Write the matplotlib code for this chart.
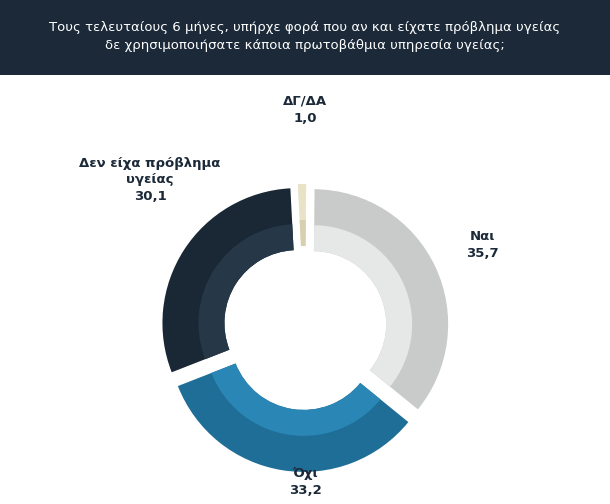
import matplotlib.pyplot as plt
from matplotlib.patches import Rectangle

categories = ["ΔΓ/ΔΑ", "Ναι", "Όχι", "Δεν είχα πρόβλημα\nυγείας"]
values = [1.0, 35.7, 33.2, 30.1]
colors = ["#e9e2c6", "#c9cbcb", "#1f6e98", "#1a2835"]
inner_colors = ["#d8cfae", "#e6e8e8", "#2a86b5", "#263747"]
title = "Τους τελευταίους 6 μήνες, υπήρχε φορά που αν και είχατε πρόβλημα υγείας\nδε χρησιμοποιήσατε κάποια πρωτοβάθμια υπηρεσία υγείας;"

fig = plt.figure(figsize=(6.1, 5.04), dpi=100)
fig.patches.append(Rectangle((0, 1 - 75/504), 1, 75/504, transform=fig.transFigure,
                             facecolor="#1b2938", edgecolor="none"))
fig.text(0.5, 1 - 37/504, title, ha="center", va="center", color="white", fontsize=9.5, linespacing=1.5)

ax = fig.add_axes([0, 0, 1, 1])
cx, cy, R = 305, 504 - 328, 135
ex = [9] * 4
ax.pie(values, colors=colors, startangle=93, counterclock=False, center=(cx, cy), radius=R,
       explode=ex, wedgeprops=dict(width=62, edgecolor="none"), frame=True)
ax.pie(values, colors=inner_colors, startangle=93, counterclock=False, center=(cx, cy), radius=R - 36,
       explode=ex, wedgeprops=dict(width=26, edgecolor="none"), frame=True)
ax.set_xlim(0, 610); ax.set_ylim(0, 504); ax.set_aspect("equal"); ax.axis("off")

lab = dict(ha="center", va="center", color="#1b2938", fontsize=9.5, fontweight="bold", linespacing=1.4)
pos = [(305, 110), (482, 245), (305, 482), (150, 180)]
for c, v, (x, y) in zip(categories, values, pos):
    ax.text(x, 504 - y, f"{c}\n{v:.1f}".replace(".", ","), **lab)

fig.savefig("out.png", dpi=100)
